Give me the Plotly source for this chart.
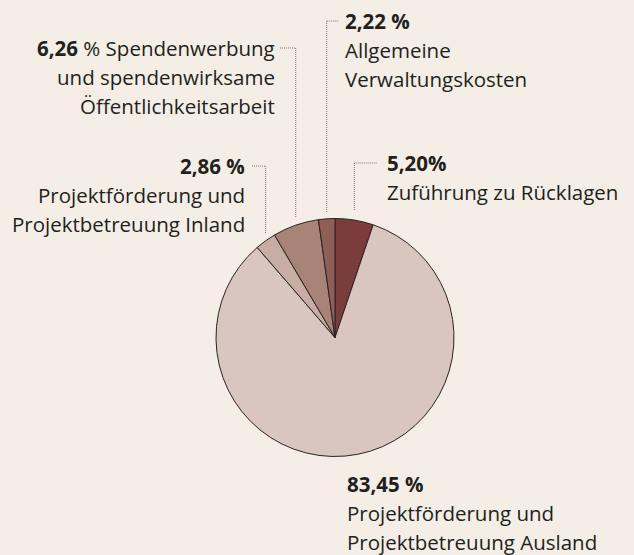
import math
import plotly.graph_objects as go

# Data (clockwise from 12 o'clock)
categories = [
    "Zuführung zu Rücklagen",
    "Projektförderung und Projektbetreuung Ausland",
    "Projektförderung und Projektbetreuung Inland",
    "Spendenwerbung und spendenwirksame Öffentlichkeitsarbeit",
    "Allgemeine Verwaltungskosten",
]
values = [5.20, 83.45, 2.86, 6.26, 2.22]
colors = ["#7B3D3C", "#D8C6BF", "#C8ADA5", "#A88478", "#8F5F57"]

W, H = 634, 555
BG = "#F4EEE6"
CX, CY, R = 335, 337.5, 119
FONT = "Open Sans"
FS = 20.5
TXT = "#231f20"
LH = 28.8

def px(x):
    return x / W

def py(y):
    return 1 - y / H

fig = go.Figure(go.Pie(
    labels=categories,
    values=values,
    sort=False,
    direction="clockwise",
    rotation=0,
    marker=dict(colors=colors, line=dict(color="#2b2222", width=1)),
    textinfo="none",
    hoverinfo="label+percent",
    showlegend=False,
    domain=dict(x=[px(CX - R), px(CX + R)], y=[py(CY + R), py(CY - R)]),
))

annotations = []
shapes = []

def add_text(x, y, text, anchor):
    annotations.append(dict(
        x=px(x), y=py(y), xref="paper", yref="paper", text=text,
        showarrow=False, xanchor=anchor, yanchor="middle",
        font=dict(family=FONT, size=FS, color=TXT),
    ))

def dline(x0, y0, x1, y1):
    shapes.append(dict(type="line", xref="paper", yref="paper",
                       x0=px(x0), y0=py(y0), x1=px(x1), y1=py(y1),
                       line=dict(color="#7a7474", width=1, dash="1px,1px")))

# mid angles of slices
total = sum(values)
cum = 0
mids = []
for v in values:
    mids.append((cum + v / 2) / total * 2 * math.pi)
    cum += v

def leader_x(i):
    return CX + R * math.sin(mids[i])

def edge_y(i):
    return CY - R * math.cos(mids[i])

# 5,20 % Zuführung
i = 0
lx = leader_x(i)
add_text(385, 163, "<b>5,20%</b>", "left")
add_text(385, 163 + LH, "Zuführung zu Rücklagen", "left")
dline(lx, 163, 377, 163)
dline(lx, 163, lx, edge_y(i) - 10)

# 2,22 % Verwaltung
i = 4
lx = leader_x(i)
add_text(343, 21, "<b>2,22 %</b>", "left")
add_text(343, 21 + LH, "Allgemeine", "left")
add_text(343, 21 + 2 * LH, "Verwaltungskosten", "left")
dline(lx, 21, 339, 21)
dline(lx, 21, lx, edge_y(i) - 6)

# 6,26 % Spendenwerbung
i = 3
lx = leader_x(i)
add_text(277, 48, "<b>6,26</b> % Spendenwerbung", "right")
add_text(277, 48 + LH, "und spendenwirksame", "right")
add_text(277, 48 + 2 * LH, "Öffentlichkeitsarbeit", "right")
dline(280, 48, lx, 48)
dline(lx, 48, lx, edge_y(i) - 8)

# 2,86 % Inland
i = 2
lx = leader_x(i)
add_text(247, 166, "<b>2,86 %</b>", "right")
add_text(247, 166 + LH, "Projektförderung und", "right")
add_text(247, 166 + 2 * LH, "Projektbetreuung Inland", "right")
dline(252, 166, lx, 166)
dline(lx, 166, lx, edge_y(i) - 7)

# 83,45 % Ausland
add_text(345, 484, "<b>83,45 %</b>", "left")
add_text(345, 484 + LH, "Projektförderung und", "left")
add_text(345, 484 + 2 * LH, "Projektbetreuung Ausland", "left")

fig.update_layout(
    width=W, height=H,
    margin=dict(l=0, r=0, t=0, b=0),
    paper_bgcolor=BG, plot_bgcolor=BG,
    annotations=annotations, shapes=shapes,
)

fig.write_html(
    "out.html",
    config={"displayModeBar": False},
    post_script="document.body.style.margin='0px';document.body.style.background='" + BG + "';",
)
